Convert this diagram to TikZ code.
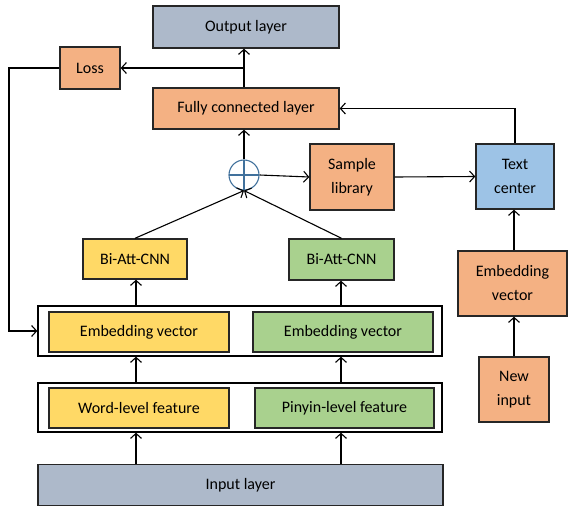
\documentclass[tikz,border=0pt]{standalone}
\usepackage{fontspec}
\setmainfont{Carlito}
\usetikzlibrary{arrows.meta}
\definecolor{grayblue}{HTML}{ADB9CA}
\definecolor{orng}{HTML}{F4B183}
\definecolor{ylw}{HTML}{FFD966}
\definecolor{grn}{HTML}{A9D18E}
\definecolor{lblue}{HTML}{9DC3E6}
\definecolor{circblue}{HTML}{41719C}
\begin{document}
\begin{tikzpicture}[x=1pt,y=-1pt,
  box/.style={draw=black!85,line width=1.4pt,align=center,inner sep=0pt,
    font=\fontsize{16}{24}\selectfont},
  frame/.style={draw=black,line width=1.4pt,inner sep=0pt},
  arr/.style={line width=1.1pt,-{Straight Barb[length=5pt,width=11pt,line width=1.1pt]}},
  ln/.style={line width=1.1pt}]
\useasboundingbox (0,0) rectangle (568,506);
% frames
\node[frame,minimum width=404pt,minimum height=50pt] (o1) at (240,331) {};
\node[frame,minimum width=404pt,minimum height=49pt] (o2) at (240,407.5) {};
% boxes
\node[box,fill=grayblue,minimum width=186pt,minimum height=42pt] (out) at (246,27) {Output layer};
\node[box,fill=orng,minimum width=60pt,minimum height=42pt] (loss) at (90,68) {Loss};
\node[box,fill=orng,minimum width=186pt,minimum height=41pt] (fc) at (246,108.5) {Fully connected layer};
\node[draw=circblue,line width=1.1pt,circle,minimum size=30pt,inner sep=0pt,
  path picture={\draw[circblue,line width=1.1pt] (path picture bounding box.north) -- (path picture bounding box.south)
   (path picture bounding box.west) -- (path picture bounding box.east);}] (plus) at (244,175) {};
\node[box,fill=orng,minimum width=84pt,minimum height=66pt] (samp) at (352,177) {Sample\\library};
\node[box,fill=lblue,minimum width=78pt,minimum height=65pt] (tc) at (515,176.5) {Text\\center};
\node[box,fill=orng,minimum width=109pt,minimum height=65pt] (emb3) at (512.5,283.5) {Embedding\\vector};
\node[box,fill=orng,minimum width=70pt,minimum height=65pt] (new) at (514,389.5) {New\\input};
\node[box,fill=ylw,minimum width=104pt,minimum height=40pt] (bi1) at (135,259) {Bi-Att-CNN};
\node[box,fill=grn,minimum width=105pt,minimum height=41pt] (bi2) at (341.5,259.5) {Bi-Att-CNN};
\node[box,fill=ylw,minimum width=180pt,minimum height=40pt] (e1) at (139,332) {Embedding vector};
\node[box,fill=grn,minimum width=180pt,minimum height=40pt] (e2) at (343,332) {Embedding vector};
\node[box,fill=ylw,minimum width=180pt,minimum height=40pt] (w1) at (139,408) {Word-level feature};
\node[box,fill=grn,minimum width=179pt,minimum height=40pt] (p1) at (344.5,408) {Pinyin-level feature};
\node[box,fill=grayblue,minimum width=405pt,minimum height=41pt] (inp) at (240.5,485) {Input layer};
% columns
\coordinate (cl) at (136,0);
\coordinate (cr) at (341,0);
\foreach \c in {cl,cr}{
  \draw[arr] (\c |- inp.north) -- (\c |- o2.south);
  \draw[arr] (\c |- o2.north) -- (\c |- o1.south);
}
\draw[arr] (cl |- o1.north) -- (cl |- bi1.south);
\draw[arr] (cr |- o1.north) -- (cr |- bi2.south);
\draw[arr] (bi1.north) -- (plus.south);
\draw[arr] (bi2.north) -- (plus.south);
\draw[arr] (plus.north) -- (plus.north |- fc.south);
\draw[arr] (plus |- fc.north) -- (plus |- out.south);
\coordinate (br) at (plus |- loss.east);
\draw[arr] (br) -- (loss.east);
\coordinate (lft) at (9,68);
\draw[arr] (loss.west) -- (lft) |- (o1.west);
\draw[arr] (plus.east) -- (samp.west);
\draw[arr] (samp.east) -- (tc.west);
\draw[arr] (tc.north) |- (fc.east);
\draw[arr] (new |- emb3.north) -- (new |- tc.south);
\draw[arr] (new.north) -- (new |- emb3.south);
\end{tikzpicture}
\end{document}
